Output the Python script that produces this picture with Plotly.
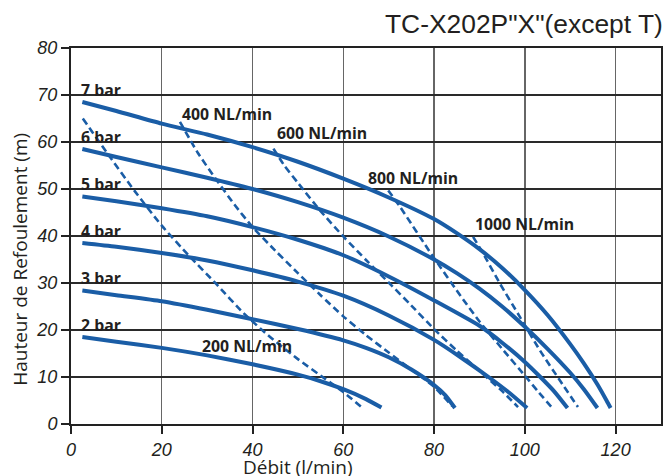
import plotly.graph_objects as go

# ---------------- data ----------------
# Pressure curves: flow (l/min) vs head (m)
flow_7bar = [2.5, 10, 20, 30, 40, 50, 60, 70, 80, 85, 90, 95, 100, 105, 110, 113, 116, 118, 118.9]
head_7bar = [68.5, 66.6, 63.9, 61.6, 58.9, 55.8, 52.2, 48.2, 43.6, 40.6, 37.2, 33.2, 28.5, 23.2, 17.0, 12.9, 8.4, 5.0, 3.4]

flow_6bar = [2.5, 10, 20, 30, 40, 50, 60, 70, 80, 85, 90, 95, 100, 105, 110, 113, 116]
head_6bar = [58.5, 56.8, 54.6, 52.4, 50.0, 47.2, 43.9, 39.9, 35.0, 32.1, 28.8, 25.0, 20.7, 16.0, 10.9, 7.4, 3.4]

flow_5bar = [2.5, 10, 20, 30, 40, 50, 60, 70, 80, 90, 95, 100, 103.3, 106.5, 109.4]
head_5bar = [48.4, 47.4, 45.9, 44.2, 41.9, 39.2, 35.9, 31.4, 26.3, 20.9, 17.3, 13.2, 10.1, 6.9, 3.4]

flow_4bar = [2.5, 10, 20, 30, 40, 50, 60, 70, 80, 86, 92, 96.5, 100.5]
head_4bar = [38.5, 37.7, 36.4, 34.8, 32.7, 30.3, 27.3, 23.1, 17.9, 14.1, 10.0, 6.7, 3.4]

flow_3bar = [2.5, 10, 20, 30, 40, 50, 60, 65, 70, 75, 80, 82.5, 84.6]
head_3bar = [28.4, 27.4, 26.1, 24.3, 22.3, 20.2, 17.8, 16.2, 14.2, 11.6, 8.3, 6.1, 3.4]

flow_2bar = [2.5, 10, 20, 30, 40, 50, 55, 60, 65, 68.4]
head_2bar = [18.5, 17.5, 16.2, 14.6, 12.7, 10.5, 9.1, 7.4, 5.3, 3.5]

# Air consumption curves (dashed)
flow_200 = [2.6, 8, 14, 20, 26, 32, 38, 44, 50, 56, 60, 64]
head_200 = [65.0, 57.6, 49.6, 42.2, 35.8, 29.8, 23.6, 18.4, 13.8, 9.6, 6.8, 3.6]

flow_400 = [24, 28, 32, 36, 40, 45, 50, 55, 60, 65, 70, 75, 80, 84]
head_400 = [64.3, 57.6, 52.0, 46.7, 41.9, 36.9, 32.1, 27.4, 22.9, 18.9, 15.2, 11.6, 7.9, 3.8]

flow_600 = [44.6, 47, 50, 55, 60, 65, 70, 75, 80, 85, 90, 95, 98.5]
head_600 = [58.6, 55.0, 51.3, 45.3, 39.9, 34.9, 30.1, 25.2, 20.2, 15.6, 11.3, 7.0, 3.6]

flow_800 = [69.9, 72.5, 79.5, 86.4, 90.1, 95, 100, 103, 105.9]
head_800 = [49.7, 46.2, 36.0, 26.5, 21.7, 16.0, 10.3, 6.8, 3.6]

flow_1000 = [88.6, 90.8, 94.5, 98.9, 103.3, 107.7, 111.7]
head_1000 = [39.8, 36.3, 29.9, 22.8, 15.7, 9.3, 3.6]

pressure_names = ["7 bar", "6 bar", "5 bar", "4 bar", "3 bar", "2 bar"]
pressure_label_x = [1.76, 1.76, 1.76, 1.76, 1.76, 1.76]
pressure_label_y = [71, 61, 51, 41, 31, 21]

air_names = ["200 NL/min", "400 NL/min", "600 NL/min", "800 NL/min", "1000 NL/min"]
air_label_x = [28.4, 24.0, 44.9, 65.1, 88.6]
air_label_y = [16.5, 66.0, 62.0, 52.3, 42.5]

x_ticks = [0, 20, 40, 60, 80, 100, 120]
y_ticks = [0, 10, 20, 30, 40, 50, 60, 70, 80]

title_text = 'TC-X202P"X"(except T)'
x_title = "Débit (l/min)"
y_title = "Hauteur de Refoulement (m)"

# ---------------- figure ----------------
BLUE = "#1a5da6"
TXT = "#231f20"

fig = go.Figure()

air_curves = [(flow_200, head_200), (flow_400, head_400), (flow_600, head_600),
              (flow_800, head_800), (flow_1000, head_1000)]
for (fx, fy), name in zip(air_curves, air_names):
    fig.add_trace(go.Scatter(x=fx, y=fy, mode="lines", name=name,
                             line=dict(color=BLUE, width=2.6, dash="7px,4px",
                                       shape="spline", smoothing=0.6),
                             hoverinfo="skip", showlegend=False))

press_curves = [(flow_7bar, head_7bar), (flow_6bar, head_6bar), (flow_5bar, head_5bar),
                (flow_4bar, head_4bar), (flow_3bar, head_3bar), (flow_2bar, head_2bar)]
for (fx, fy), name in zip(press_curves, pressure_names):
    fig.add_trace(go.Scatter(x=fx, y=fy, mode="lines", name=name,
                             line=dict(color=BLUE, width=4, shape="spline", smoothing=0.6),
                             hoverinfo="skip", showlegend=False))

annotations = []
for name, lx, ly in zip(pressure_names, pressure_label_x, pressure_label_y):
    annotations.append(dict(x=lx, y=ly, xref="x", yref="y", text="<b>%s</b>" % name,
                            showarrow=False, xanchor="left", yanchor="middle",
                            font=dict(family="Open Sans", size=15.8, color=TXT)))
for name, lx, ly in zip(air_names, air_label_x, air_label_y):
    annotations.append(dict(x=lx, y=ly, xref="x", yref="y", text="<b>%s</b>" % name,
                            showarrow=False, xanchor="left", yanchor="middle",
                            font=dict(family="Open Sans", size=15.8, color=TXT)))

annotations.append(dict(x=1.0068, y=1.063, xref="paper", yref="paper", text=title_text,
                        showarrow=False, xanchor="right", yanchor="middle",
                        font=dict(family="Liberation Sans", size=26.4, color=TXT)))
annotations.append(dict(x=50, y=-0.1152, xref="x", yref="paper", text=x_title,
                        showarrow=False, xanchor="center", yanchor="middle",
                        font=dict(family="Open Sans", size=19, color=TXT)))
annotations.append(dict(x=-0.0864, y=0.4367, xref="paper", yref="paper", text=y_title,
                        showarrow=False, xanchor="center", yanchor="middle", textangle=-90,
                        font=dict(family="Open Sans", size=19, color=TXT)))

fig.update_layout(
    width=666, height=476,
    margin=dict(l=71, r=5, t=48, b=52),
    paper_bgcolor="white", plot_bgcolor="white",
    annotations=annotations,
    showlegend=False,
)

fig.update_xaxes(range=[0, 130], tickvals=x_ticks, ticktext=[str(v) for v in x_ticks],
                 showgrid=True, gridcolor="#666666", gridwidth=1.4,
                 showline=True, linecolor="#222", linewidth=2, mirror=True,
                 ticks="outside", ticklen=8, tickwidth=2, tickcolor="#222",
                 tickfont=dict(family="Liberation Sans", size=18, color=TXT, style="italic"),
                 zeroline=False, fixedrange=True, automargin=False)
fig.update_yaxes(range=[0, 80], tickvals=y_ticks, ticktext=[str(v) for v in y_ticks],
                 showgrid=True, gridcolor="#2a2a2a", gridwidth=1.4,
                 showline=True, linecolor="#222", linewidth=2, mirror=True,
                 ticks="outside", ticklen=8, tickwidth=2, tickcolor="#222",
                 tickfont=dict(family="Liberation Sans", size=18, color=TXT, style="italic"),
                 zeroline=False, fixedrange=True, automargin=False)

# remove the default page margin so the 666x476 figure fills the window exactly
fig.write_html("out.html",
               config={"displayModeBar": False, "staticPlot": True},
               post_script="document.body.style.margin='0';document.body.style.overflow='hidden';")
